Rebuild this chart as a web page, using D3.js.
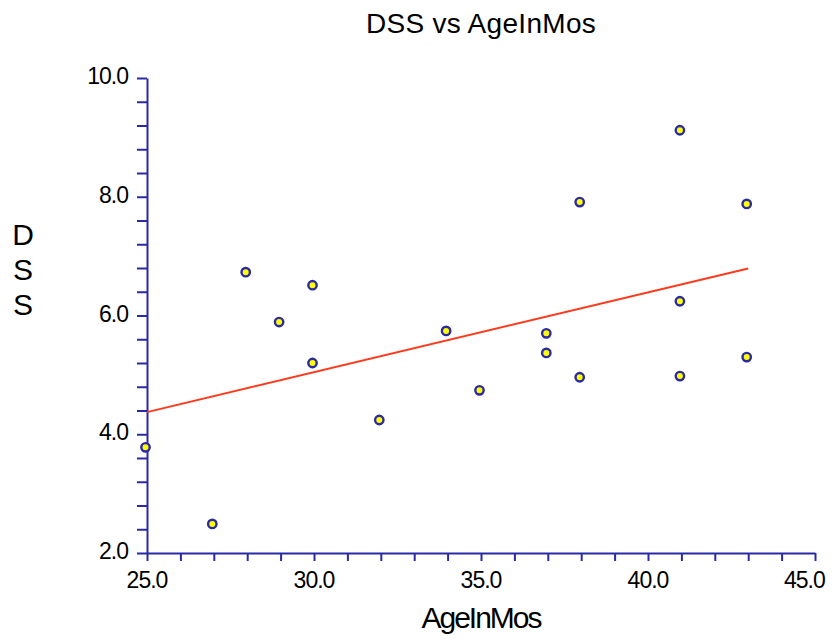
<!DOCTYPE html>
<html>
<head>
<meta charset="utf-8">
<script src="https://cdn.jsdelivr.net/npm/d3@7"></script>
<style>
  html, body { margin: 0; padding: 0; background: #fff; }
  svg { display: block; font-family: "Liberation Sans", Arial, sans-serif; }
</style>
</head>
<body>
<svg id="chart" width="834" height="641"></svg>
<script>
// Observations: age in months vs DSS score
const ageInMos = [25, 27, 28, 29, 30, 30, 32, 34, 35, 37, 37, 38, 38, 41, 41, 41, 43, 43];
const dss      = [3.78, 2.49, 6.73, 5.89, 6.51, 5.20, 4.24, 5.74, 4.74, 5.70, 5.37, 7.91, 4.96, 9.12, 6.24, 4.98, 7.88, 5.30];

const xTickLabels = ["25.0", "30.0", "35.0", "40.0", "45.0"];
const yTickLabels = ["2.0", "4.0", "6.0", "8.0", "10.0"];
const xDomain = [25, 45];
const yDomain = [2, 10];

const chartTitle = "DSS vs AgeInMos";
const xTitle = "AgeInMos";
const yTitle = "DSS";

const axisColor = "#2a2aa6";
const lineColor = "#ff3a1c";

const svg = d3.select("#chart");
const plot = { left: 147, right: 815, top: 78, bottom: 553 };

const x = d3.scaleLinear().domain(xDomain).range([plot.left, plot.right]);
const y = d3.scaleLinear().domain(yDomain).range([plot.bottom, plot.top]);

// Title
svg.append("text")
  .attr("x", (plot.left + plot.right) / 2).attr("y", 33)
  .attr("text-anchor", "middle")
  .style("font-size", "28px").style("letter-spacing", "0.3px")
  .text(chartTitle);

// X axis: minor ticks every 1.0, labels every 5.0
const xAxis = d3.axisBottom(x)
  .tickValues(d3.range(xDomain[0], xDomain[1] + 0.001, 1))
  .tickSize(8).tickSizeOuter(0)
  .tickFormat(() => "");
const gx = svg.append("g").attr("transform", `translate(0,${plot.bottom})`).call(xAxis);

// Y axis: minor ticks every 0.4, labels every 2.0
const yAxis = d3.axisLeft(y)
  .tickValues(d3.range(0, 21).map(i => yDomain[0] + i * 0.4))
  .tickSize(10).tickSizeOuter(0)
  .tickFormat(() => "");
const gy = svg.append("g").attr("transform", `translate(${plot.left},0)`).call(yAxis);

[gx, gy].forEach(g => {
  g.select(".domain").attr("stroke", axisColor).attr("stroke-width", 2);
  g.selectAll(".tick line").attr("stroke", axisColor).attr("stroke-width", 2);
});

// X tick labels (kept inside the drawing area at the right edge)
const xl = svg.append("g").selectAll("text").data(xTickLabels).join("text")
  .attr("x", d => x(+d)).attr("y", plot.bottom + 35)
  .attr("text-anchor", "middle")
  .style("font-size", "23px").style("letter-spacing", "-1px")
  .text(d => d);
xl.each(function() {
  const bb = this.getBBox();
  const maxRight = 825;
  if (bb.x + bb.width > maxRight) {
    d3.select(this).attr("x", +d3.select(this).attr("x") - (bb.x + bb.width - maxRight));
  }
});

// Y tick labels
svg.append("g").selectAll("text").data(yTickLabels).join("text")
  .attr("x", 128).attr("y", d => y(+d) + 6)
  .attr("text-anchor", "end")
  .style("font-size", "23px").style("letter-spacing", "-1px")
  .text(d => d);

// Axis titles
svg.append("text")
  .attr("x", (plot.left + plot.right) / 2).attr("y", 628)
  .attr("text-anchor", "middle")
  .style("font-size", "30px").style("letter-spacing", "-2px")
  .text(xTitle);

svg.append("g").selectAll("text").data(yTitle.split("")).join("text")
  .attr("x", 23).attr("y", (d, i) => 245 + i * 35)
  .attr("text-anchor", "middle")
  .style("font-size", "30px")
  .text(d => d);

// Least-squares regression line over the observed age range
const n = ageInMos.length;
const mx = d3.mean(ageInMos), my = d3.mean(dss);
let sxy = 0, sxx = 0;
for (let i = 0; i < n; i++) {
  sxy += (ageInMos[i] - mx) * (dss[i] - my);
  sxx += (ageInMos[i] - mx) ** 2;
}
const slope = sxy / sxx, intercept = my - slope * mx;
const xExt = d3.extent(ageInMos);
const fit = xExt.map(a => [a, intercept + slope * a]);

svg.append("path")
  .datum(fit)
  .attr("fill", "none")
  .attr("stroke", lineColor)
  .attr("stroke-width", 2)
  .attr("d", d3.line().x(d => x(d[0])).y(d => y(d[1])));

// Data points: blue ring with yellow centre (symbols sit slightly left of the tick)
const pts = ageInMos.map((a, i) => ({ a, v: dss[i] }));
svg.append("g").attr("transform", "translate(-1.5,0)")
  .selectAll("circle").data(pts).join("circle")
  .attr("cx", d => x(d.a)).attr("cy", d => y(d.v))
  .attr("r", 4.2)
  .attr("fill", "#ffff00")
  .attr("stroke", axisColor)
  .attr("stroke-width", 2.4);
</script>
</body>
</html>
